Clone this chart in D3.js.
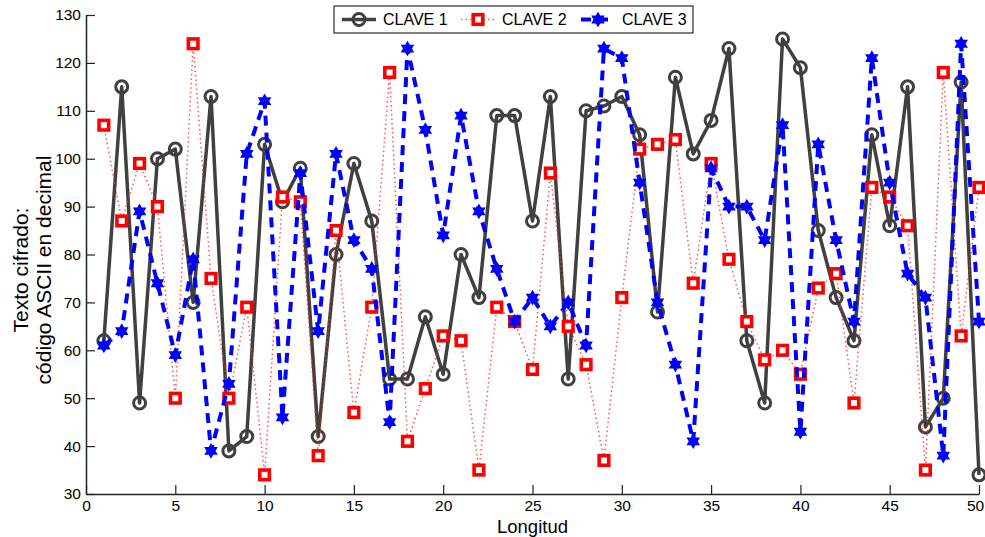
<!DOCTYPE html>
<html>
<head>
<meta charset="utf-8">
<script src="https://cdn.jsdelivr.net/npm/d3@7"></script>
<style>
  html, body { margin: 0; padding: 0; background: #fff; }
  svg { display: block; font-family: "Liberation Sans", Arial, sans-serif; }
</style>
</head>
<body>
<svg id="chart" width="985" height="537"></svg>
<script>
// Position along the message (1..50)
const positions = d3.range(1, 51);

// Ciphertext, decimal ASCII code, per key
const clave1 = [62, 115, 49, 100, 102, 70, 113, 39, 42, 103,
                91, 98, 42, 80, 99, 87, 54, 54, 67, 55,
                80, 71, 109, 109, 87, 113, 54, 110, 111, 113,
                105, 68, 117, 101, 108, 123, 62, 49, 125, 119,
                85, 71, 62, 105, 86, 115, 44, 50, 116, 34];
const clave2 = [107, 87, 99, 90, 50, 124, 75, 50, 69, 34,
                92, 91, 38, 85, 47, 69, 118, 41, 52, 63,
                62, 35, 69, 66, 56, 97, 65, 57, 37, 71,
                102, 103, 104, 74, 99, 79, 66, 58, 60, 55,
                73, 76, 49, 94, 92, 86, 35, 118, 63, 94];
const clave3 = [61, 64, 89, 74, 59, 79, 39, 53, 101, 112,
                46, 97, 64, 101, 83, 77, 45, 123, 106, 84,
                109, 89, 77, 66, 71, 65, 70, 61, 123, 121,
                95, 70, 57, 41, 98, 90, 90, 83, 107, 43,
                103, 83, 66, 121, 95, 76, 71, 38, 124, 66];

const seriesNames = ["CLAVE 1", "CLAVE 2", "CLAVE 3"];
const xTicks = [0, 5, 10, 15, 20, 25, 30, 35, 40, 45, 50];
const yTicks = [30, 40, 50, 60, 70, 80, 90, 100, 110, 120, 130];

const svg = d3.select("#chart");
const plotLeft = 86, plotRight = 979, plotTop = 15, plotBottom = 494;

const x = d3.scaleLinear().domain([0, 50]).range([plotLeft, plotRight]);
const y = d3.scaleLinear().domain([30, 130]).range([plotBottom, plotTop]);

// Axes with inward ticks
const gx = svg.append("g").attr("transform", `translate(0,${plotBottom})`)
  .call(d3.axisBottom(x).tickValues(xTicks).tickSize(-9).tickPadding(14).tickSizeOuter(0));
const gy = svg.append("g").attr("transform", `translate(${plotLeft},0)`)
  .call(d3.axisLeft(y).tickValues(yTicks).tickSize(-9).tickPadding(14).tickSizeOuter(0));
[gx, gy].forEach(g => {
  g.selectAll("path.domain").attr("stroke", "#222").attr("stroke-width", 1.5);
  g.selectAll(".tick line").attr("stroke", "#222").attr("stroke-width", 1.2);
  g.selectAll(".tick text").attr("fill", "#000").style("font-size", "15.5px")
    .style("font-family", "Liberation Sans, Arial, sans-serif");
});
gx.selectAll(".tick text").attr("dy", "0.35em").attr("y", 12)
  .attr("x", d => d === 50 ? -4 : 0);
gy.selectAll(".tick text").attr("x", -5);

// Axis titles
svg.append("text").attr("x", (plotLeft + plotRight) / 2).attr("y", 533)
  .attr("text-anchor", "middle").style("font-size", "18.5px").text("Longitud");
const yl = svg.append("text")
  .attr("transform", `translate(28,270) rotate(-90)`)
  .attr("text-anchor", "middle").style("font-size", "21px");
yl.append("tspan").attr("x", 0).attr("dy", 0).text("Texto cifrado:");
yl.append("tspan").attr("x", 0).attr("dy", "1.1em").text("código ASCII en decimal");

// Six-pointed star marker
function hexagram(r) {
  const pts = [];
  for (let i = 0; i < 12; i++) {
    const a = -Math.PI / 2 + i * Math.PI / 6;
    const rr = i % 2 === 0 ? r : r / Math.sqrt(3);
    pts.push([rr * Math.cos(a), rr * Math.sin(a)]);
  }
  return "M" + pts.map(p => p.join(",")).join("L") + "Z";
}

const line = d3.line().x((d, i) => x(positions[i])).y(d => y(d));
const plot = svg.append("g");

function drawMarker(g, kind) {
  if (kind === 0) {
    g.append("circle").attr("r", 6).attr("fill", "none")
      .attr("stroke", "#404040").attr("stroke-width", 3);
  } else if (kind === 1) {
    g.append("rect").attr("x", -4.8).attr("y", -4.8).attr("width", 9.6).attr("height", 9.6)
      .attr("fill", "#fff").attr("stroke", "#ff0000").attr("stroke-width", 3.6);
  } else {
    g.append("path").attr("d", hexagram(7.8)).attr("fill", "#0000ff");
  }
}

const styles = [
  { stroke: "#404040", width: 3.5, dash: null, opacity: 1 },
  { stroke: "#ff2a2a", width: 1.5, dash: "1.5,3", opacity: 0.8 },
  { stroke: "#0000ff", width: 4, dash: "10,7", opacity: 1 }
];

[clave1, clave2, clave3].forEach((vals, k) => {
  const s = styles[k];
  plot.append("path").datum(vals).attr("d", line).attr("fill", "none")
    .attr("stroke", s.stroke).attr("stroke-width", s.width)
    .attr("stroke-dasharray", s.dash).attr("stroke-opacity", s.opacity)
    .attr("stroke-linejoin", "round");
  plot.append("g").selectAll("g").data(vals).join("g")
    .attr("transform", (d, i) => `translate(${x(positions[i])},${y(d)})`)
    .each(function () { drawMarker(d3.select(this), k); });
});

// Legend
const lg = svg.append("g");
lg.append("rect").attr("x", 334).attr("y", 6).attr("width", 359).attr("height", 27)
  .attr("fill", "#fff").attr("stroke", "#000").attr("stroke-width", 1);
const legendX = [342, 461, 581];
seriesNames.forEach((name, k) => {
  const s = styles[k];
  const x0 = legendX[k];
  lg.append("line").attr("x1", x0).attr("x2", x0 + 34).attr("y1", 19.5).attr("y2", 19.5)
    .attr("stroke", s.stroke).attr("stroke-width", s.width)
    .attr("stroke-dasharray", s.dash).attr("stroke-opacity", s.opacity);
  const m = lg.append("g").attr("transform", `translate(${x0 + 17},19.5)`);
  drawMarker(m, k);
  lg.append("text").attr("x", x0 + 41).attr("y", 19.5).attr("dy", "0.35em")
    .style("font-size", "16px").text(name);
});
</script>
</body>
</html>
